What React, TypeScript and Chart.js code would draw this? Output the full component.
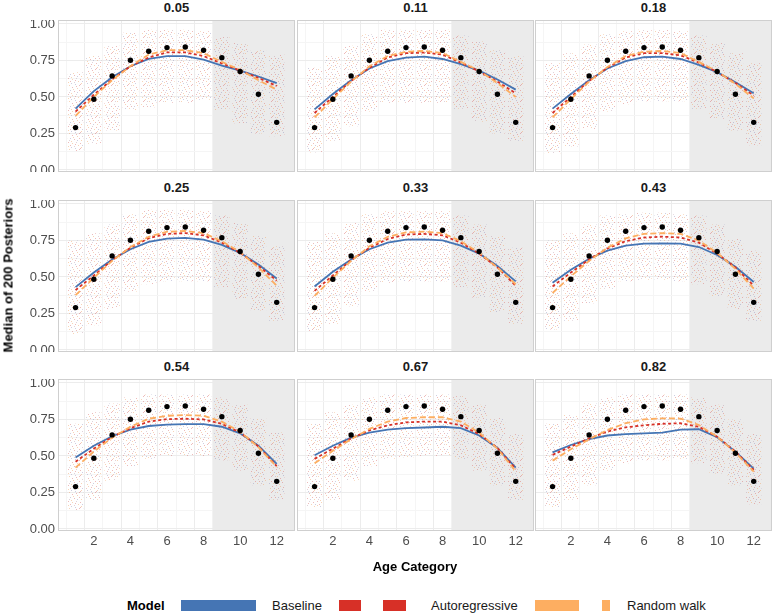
import React, { useEffect, useRef } from 'react';
import { Chart, registerables } from 'chart.js';

Chart.register(...registerables);

// ---------------- data ----------------
const ageCategories = [1, 2, 3, 4, 5, 6, 7, 8, 9, 10, 11, 12];
const panelTitles = ['0.05', '0.11', '0.18', '0.25', '0.33', '0.43', '0.54', '0.67', '0.82'];
const observed = [0.29, 0.484, 0.644, 0.751, 0.813, 0.838, 0.842, 0.82, 0.769, 0.674, 0.518, 0.326];

const baseline = [
  [0.42, 0.54, 0.635, 0.71, 0.76, 0.78, 0.78, 0.755, 0.715, 0.68, 0.64, 0.595],
  [0.415, 0.52, 0.615, 0.695, 0.745, 0.77, 0.776, 0.76, 0.725, 0.68, 0.62, 0.55],
  [0.42, 0.52, 0.615, 0.695, 0.745, 0.772, 0.776, 0.76, 0.72, 0.67, 0.6, 0.525],
  [0.43, 0.53, 0.62, 0.69, 0.74, 0.762, 0.767, 0.755, 0.72, 0.665, 0.585, 0.49],
  [0.435, 0.535, 0.62, 0.69, 0.735, 0.755, 0.758, 0.75, 0.715, 0.66, 0.575, 0.47],
  [0.46, 0.55, 0.625, 0.68, 0.715, 0.728, 0.73, 0.728, 0.705, 0.65, 0.57, 0.465],
  [0.49, 0.57, 0.635, 0.68, 0.705, 0.715, 0.718, 0.718, 0.7, 0.655, 0.57, 0.445],
  [0.505, 0.57, 0.625, 0.66, 0.68, 0.69, 0.695, 0.7, 0.69, 0.64, 0.555, 0.42],
  [0.525, 0.575, 0.615, 0.64, 0.65, 0.655, 0.66, 0.68, 0.683, 0.628, 0.53, 0.413],
];
const autoregressive = [
  [0.4, 0.515, 0.62, 0.71, 0.77, 0.805, 0.805, 0.78, 0.73, 0.68, 0.63, 0.575],
  [0.39, 0.5, 0.61, 0.7, 0.77, 0.8, 0.804, 0.79, 0.735, 0.675, 0.605, 0.525],
  [0.39, 0.5, 0.61, 0.7, 0.77, 0.8, 0.8, 0.785, 0.735, 0.67, 0.595, 0.51],
  [0.41, 0.51, 0.615, 0.7, 0.765, 0.795, 0.8, 0.785, 0.735, 0.665, 0.575, 0.475],
  [0.405, 0.51, 0.615, 0.7, 0.76, 0.79, 0.795, 0.785, 0.735, 0.66, 0.565, 0.44],
  [0.435, 0.53, 0.62, 0.695, 0.745, 0.77, 0.776, 0.77, 0.735, 0.66, 0.565, 0.44],
  [0.46, 0.55, 0.63, 0.69, 0.735, 0.752, 0.755, 0.75, 0.72, 0.66, 0.565, 0.43],
  [0.48, 0.55, 0.62, 0.675, 0.71, 0.73, 0.735, 0.735, 0.71, 0.65, 0.555, 0.41],
  [0.507, 0.564, 0.62, 0.667, 0.696, 0.71, 0.72, 0.724, 0.7, 0.632, 0.53, 0.404],
];
const randomWalk = [
  [0.37, 0.5, 0.615, 0.71, 0.79, 0.82, 0.82, 0.8, 0.74, 0.685, 0.615, 0.55],
  [0.36, 0.485, 0.605, 0.71, 0.78, 0.81, 0.815, 0.8, 0.74, 0.68, 0.595, 0.5],
  [0.36, 0.485, 0.605, 0.705, 0.78, 0.81, 0.815, 0.8, 0.74, 0.675, 0.59, 0.49],
  [0.375, 0.495, 0.61, 0.705, 0.775, 0.81, 0.815, 0.8, 0.745, 0.67, 0.565, 0.44],
  [0.37, 0.495, 0.61, 0.71, 0.775, 0.805, 0.81, 0.8, 0.745, 0.665, 0.565, 0.45],
  [0.39, 0.505, 0.61, 0.7, 0.765, 0.795, 0.8, 0.795, 0.75, 0.665, 0.555, 0.42],
  [0.42, 0.53, 0.625, 0.7, 0.755, 0.775, 0.78, 0.775, 0.735, 0.665, 0.56, 0.425],
  [0.45, 0.535, 0.615, 0.685, 0.735, 0.76, 0.765, 0.765, 0.735, 0.66, 0.55, 0.395],
  [0.468, 0.546, 0.614, 0.678, 0.724, 0.75, 0.758, 0.756, 0.712, 0.632, 0.523, 0.393],
];
// spread of the posterior draws (jittered cloud) per age category
const cloudLow = [
  [0.13, 0.18, 0.27, 0.41, 0.43, 0.46, 0.46, 0.48, 0.41, 0.32, 0.25, 0.23],
  [0.12, 0.2, 0.3, 0.4, 0.46, 0.46, 0.46, 0.46, 0.42, 0.33, 0.25, 0.2],
  [0.11, 0.16, 0.28, 0.4, 0.45, 0.47, 0.47, 0.47, 0.42, 0.35, 0.27, 0.17],
  [0.11, 0.17, 0.28, 0.4, 0.45, 0.47, 0.47, 0.47, 0.43, 0.35, 0.27, 0.2],
  [0.13, 0.18, 0.3, 0.4, 0.46, 0.47, 0.47, 0.47, 0.43, 0.36, 0.26, 0.18],
  [0.14, 0.2, 0.32, 0.42, 0.47, 0.48, 0.48, 0.47, 0.45, 0.37, 0.28, 0.2],
  [0.13, 0.2, 0.33, 0.43, 0.48, 0.5, 0.5, 0.5, 0.47, 0.4, 0.3, 0.2],
  [0.15, 0.2, 0.33, 0.43, 0.48, 0.49, 0.5, 0.5, 0.48, 0.4, 0.3, 0.2],
  [0.15, 0.2, 0.3, 0.4, 0.45, 0.47, 0.47, 0.48, 0.45, 0.38, 0.3, 0.17],
];
const cloudHigh = [
  [0.67, 0.78, 0.85, 0.94, 0.96, 0.96, 0.96, 0.95, 0.91, 0.87, 0.82, 0.79],
  [0.7, 0.78, 0.85, 0.93, 0.96, 0.96, 0.96, 0.96, 0.92, 0.88, 0.82, 0.78],
  [0.73, 0.8, 0.86, 0.93, 0.95, 0.96, 0.96, 0.95, 0.92, 0.87, 0.8, 0.73],
  [0.75, 0.8, 0.86, 0.93, 0.96, 0.96, 0.96, 0.95, 0.92, 0.87, 0.78, 0.71],
  [0.74, 0.8, 0.87, 0.93, 0.95, 0.95, 0.95, 0.95, 0.92, 0.86, 0.78, 0.7],
  [0.75, 0.8, 0.86, 0.92, 0.93, 0.94, 0.94, 0.93, 0.92, 0.86, 0.76, 0.68],
  [0.72, 0.8, 0.86, 0.9, 0.92, 0.92, 0.92, 0.92, 0.9, 0.85, 0.76, 0.66],
  [0.72, 0.8, 0.85, 0.9, 0.92, 0.92, 0.92, 0.92, 0.91, 0.85, 0.76, 0.65],
  [0.72, 0.78, 0.86, 0.9, 0.92, 0.92, 0.92, 0.92, 0.9, 0.85, 0.75, 0.65],
];

const xTicks = [2, 4, 6, 8, 10, 12];
const xMinorTicks = [1, 3, 5, 7, 9, 11];
const yTicks = [0, 0.25, 0.5, 0.75, 1];
const yTickLabels = ['0.00', '0.25', '0.50', '0.75', '1.00'];
const yMinorTicks = [0.125, 0.375, 0.625, 0.875];
const holdoutStart = 8.5;
const xAxisTitle = 'Age Category';
const yAxisTitle = 'Median of 200 Posteriors';
const legendTitle = 'Model';
const modelNames = ['Baseline', 'Autoregressive', 'Random walk'];

// ---------------- style ----------------
const FONT = '"Liberation Sans", Arial, Helvetica, sans-serif';
const BLUE = '#4575B4';
const RED = '#D73027';
const ORANGE = '#FDAE61';
const PANEL_LEFT = [58, 297, 535];
const PANEL_TOP = [20, 200, 379];
const PANEL_W = 237;
const PANEL_H = 152;
const X_MIN = 0.04;
const X_MAX = 13.0;
const Y_MIN = -0.014;
const Y_MAX = 1.027;

// hand-placed speckle texture for the cloud of posterior draws
const SPECKLE: [number, number, number][] = [
  [0, 0, 0], [5, 1, 1], [11, 0, 2], [8, 3, 0], [2, 4, 3], [13, 4, 1],
  [6, 6, 2], [10, 7, 0], [1, 8, 1], [4, 10, 0], [12, 10, 3], [8, 11, 1],
  [2, 13, 2], [6, 13, 0], [14, 13, 1], [10, 14, 3], [3, 6, 0], [13, 8, 2],
  [15, 1, 0], [3, 1, 3], [9, 5, 1], [0, 11, 0], [5, 8, 3], [11, 12, 0],
  [7, 9, 1], [15, 6, 0], [1, 15, 1], [12, 2, 0], [7, 15, 2], [4, 14, 1],
];
const SPECKLE_COLORS = [
  'rgba(215,105,105,0.45)',
  'rgba(240,160,95,0.45)',
  'rgba(120,120,175,0.36)',
  'rgba(170,130,150,0.36)',
];

function makeCloudPattern(ctx: CanvasRenderingContext2D) {
  const c = document.createElement('canvas');
  c.width = 16;
  c.height = 16;
  const p = c.getContext('2d')!;
  SPECKLE.forEach(([x, y, k]) => {
    p.fillStyle = SPECKLE_COLORS[k];
    p.fillRect(x, y, 1, 1);
  });
  return ctx.createPattern(c, 'repeat')!;
}

const panelDecor = {
  id: 'panelDecor',
  beforeDatasetsDraw(chart: any) {
    const { ctx, chartArea, scales } = chart;
    const x0 = scales.x.getPixelForValue(holdoutStart);
    ctx.save();
    ctx.fillStyle = '#ebebeb';
    ctx.fillRect(x0, chartArea.top, chartArea.right - x0, chartArea.bottom - chartArea.top);
    ctx.restore();
  },
  afterDatasetsDraw(chart: any) {
    const { ctx, chartArea } = chart;
    ctx.save();
    ctx.strokeStyle = '#cfcfcf';
    ctx.lineWidth = 1;
    ctx.strokeRect(
      Math.round(chartArea.left) + 0.5,
      Math.round(chartArea.top) + 0.5,
      Math.round(chartArea.right - chartArea.left) - 1,
      Math.round(chartArea.bottom - chartArea.top) - 1
    );
    ctx.restore();
  },
};

function zeroPad(s: any) {
  s.paddingTop = 0;
  s.paddingBottom = 0;
  s.paddingLeft = 0;
  s.paddingRight = 0;
}

function Panel({ idx }: { idx: number }) {
  const ref = useRef<HTMLCanvasElement>(null);
  const col = idx % 3;
  const row = Math.floor(idx / 3);
  const L = col === 0 ? 58 : 0;
  const B = row === 2 ? 30 : 0;

  useEffect(() => {
    const ctx = ref.current!.getContext('2d')!;
    const pattern = makeCloudPattern(ctx);
    const toPts = (arr: number[]) => ageCategories.map((x, i) => ({ x, y: arr[i] }));
    const chart = new Chart(ctx, {
      type: 'line',
      data: {
        datasets: [
          {
            type: 'bar',
            label: 'draws',
            data: ageCategories.map((x, i) => ({ x, y: [cloudLow[idx][i], cloudHigh[idx][i]] })) as any,
            backgroundColor: pattern as any,
            borderWidth: 0,
            barPercentage: 0.84,
            categoryPercentage: 1,
            order: 10,
          } as any,
          {
            type: 'line',
            label: modelNames[0],
            data: toPts(baseline[idx]),
            borderColor: BLUE,
            borderWidth: 1.8,
            pointRadius: 0,
            tension: 0,
            order: 4,
          },
          {
            type: 'line',
            label: modelNames[1],
            data: toPts(autoregressive[idx]),
            borderColor: RED,
            borderWidth: 1.8,
            borderDash: [3, 2.5],
            pointRadius: 0,
            tension: 0,
            order: 3,
          },
          {
            type: 'line',
            label: modelNames[2],
            data: toPts(randomWalk[idx]),
            borderColor: ORANGE,
            borderWidth: 1.8,
            borderDash: [6, 3],
            pointRadius: 0,
            tension: 0,
            order: 2,
          },
          {
            type: 'scatter',
            label: 'observed',
            data: toPts(observed),
            backgroundColor: '#000000',
            borderWidth: 0,
            pointRadius: 2.7,
            showLine: false,
            order: 1,
          } as any,
        ],
      },
      options: {
        animation: false,
        responsive: false,
        maintainAspectRatio: false,
        events: [],
        layout: { padding: 0, autoPadding: false },
        plugins: { legend: { display: false }, tooltip: { enabled: false }, title: { display: false } },
        scales: {
          x: {
            type: 'linear',
            min: X_MIN,
            max: X_MAX,
            offset: false,
            afterBuildTicks: (s: any) => {
              s.ticks = [...xMinorTicks, ...xTicks].sort((a, b) => a - b).map((v) => ({ value: v }));
            },
            afterFit: (s: any) => {
              s.height = B;
              zeroPad(s);
            },
            ticks: {
              display: row === 2,
              autoSkip: false,
              maxRotation: 0,
              padding: 3,
              color: '#4d4d4d',
              font: { family: FONT, size: 13 },
              callback: (v: any) => (xTicks.includes(v) ? String(v) : ''),
            },
            grid: {
              drawTicks: false,
              color: (c: any) => (xTicks.includes(c.tick?.value) ? '#ececec' : '#f5f5f5'),
              lineWidth: 1,
            },
            border: { display: false },
          },
          y: {
            type: 'linear',
            min: Y_MIN,
            max: Y_MAX,
            afterBuildTicks: (s: any) => {
              s.ticks = [...yTicks, ...yMinorTicks].sort((a, b) => a - b).map((v) => ({ value: v }));
            },
            afterFit: (s: any) => {
              s.width = L;
              zeroPad(s);
            },
            ticks: {
              display: col === 0,
              autoSkip: false,
              padding: 3,
              color: '#4d4d4d',
              font: { family: FONT, size: 13 },
              callback: (v: any) => {
                const i = yTicks.indexOf(v);
                return i >= 0 ? yTickLabels[i] : '';
              },
            },
            grid: {
              drawTicks: false,
              color: (c: any) => (yTicks.includes(c.tick?.value) ? '#ececec' : '#f5f5f5'),
              lineWidth: 1,
            },
            border: { display: false },
          },
        },
      } as any,
      plugins: [panelDecor],
    });
    return () => chart.destroy();
  }, [idx]);

  return (
    <canvas
      ref={ref}
      width={L + PANEL_W}
      height={PANEL_H + B}
      style={{ position: 'absolute', left: PANEL_LEFT[col] - L, top: PANEL_TOP[row], width: L + PANEL_W, height: PANEL_H + B }}
    />
  );
}

const textBase: React.CSSProperties = {
  position: 'absolute',
  fontFamily: FONT,
  fontSize: 13,
  lineHeight: '15px',
  whiteSpace: 'nowrap',
};

export default function App() {
  return (
    <div style={{ position: 'absolute', left: 0, top: 0, width: 776, height: 615, background: '#ffffff', overflow: 'hidden' }}>
      {panelTitles.map((t, i) => {
        const col = i % 3;
        const row = Math.floor(i / 3);
        return (
          <div
            key={'t' + i}
            style={{
              ...textBase,
              fontWeight: 'bold',
              color: '#1a1a1a',
              left: PANEL_LEFT[col],
              width: PANEL_W,
              textAlign: 'center',
              top: PANEL_TOP[row] - 20,
            }}
          >
            {t}
          </div>
        );
      })}
      {panelTitles.map((_, i) => (
        <Panel key={i} idx={i} />
      ))}
      <div style={{ ...textBase, fontWeight: 'bold', color: '#000', left: 58, width: 714, textAlign: 'center', top: 559 }}>
        {xAxisTitle}
      </div>
      <div
        style={{
          ...textBase,
          fontWeight: 'bold',
          color: '#000',
          left: 8 - 100,
          top: 275.5 - 7.5,
          width: 200,
          textAlign: 'center',
          transform: 'rotate(-90deg)',
        }}
      >
        {yAxisTitle}
      </div>
      {/* legend */}
      <div style={{ ...textBase, fontWeight: 'bold', color: '#000', left: 127, top: 598 }}>{legendTitle}</div>
      <div style={{ position: 'absolute', left: 181, top: 600, width: 75, height: 11, background: BLUE }} />
      <div style={{ ...textBase, color: '#1a1a1a', left: 272, top: 598 }}>{modelNames[0]}</div>
      <div style={{ position: 'absolute', left: 339, top: 600, width: 22, height: 11, background: RED }} />
      <div style={{ position: 'absolute', left: 383, top: 600, width: 23, height: 11, background: RED }} />
      <div style={{ ...textBase, color: '#1a1a1a', left: 431, top: 598 }}>{modelNames[1]}</div>
      <div style={{ position: 'absolute', left: 535, top: 600, width: 44, height: 11, background: ORANGE }} />
      <div style={{ position: 'absolute', left: 602, top: 600, width: 8, height: 11, background: ORANGE }} />
      <div style={{ ...textBase, color: '#1a1a1a', left: 627, top: 598 }}>{modelNames[2]}</div>
    </div>
  );
}
